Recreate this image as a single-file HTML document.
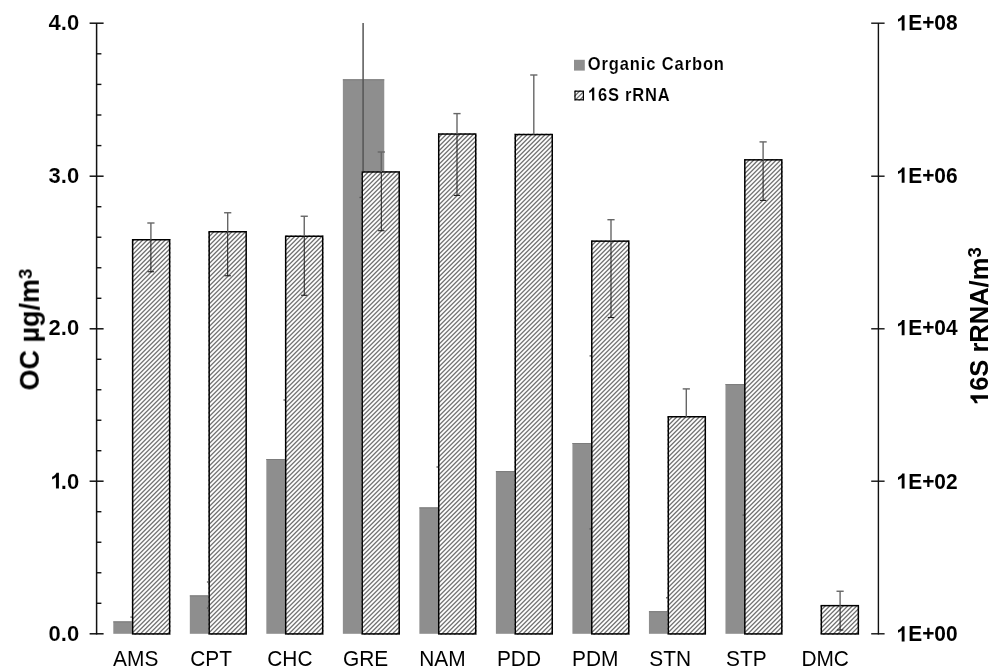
<!DOCTYPE html>
<html><head><meta charset="utf-8"><title>OC and 16S rRNA chart</title>
<style>html,body{margin:0;padding:0;background:#fff;}body{width:1000px;height:672px;overflow:hidden;font-family:"Liberation Sans",sans-serif;}svg{display:block;}text{will-change:transform;}</style>
</head><body>
<svg width="1000" height="672" viewBox="0 0 1000 672">
<rect width="1000" height="672" fill="#fff"/>
<rect x="113.3" y="621.4" width="41.4" height="12.4" fill="#8e8e8e"/>
<line x1="113.3" y1="621.9" x2="154.7" y2="621.9" stroke="#7c7c7c" stroke-width="1"/>
<line x1="130.4" y1="617.1" x2="137.6" y2="617.1" stroke="#555" stroke-width="1.3"/>
<rect x="189.82" y="595.4" width="41.4" height="38.4" fill="#8e8e8e"/>
<line x1="189.82" y1="595.9" x2="231.22" y2="595.9" stroke="#7c7c7c" stroke-width="1"/>
<line x1="206.92" y1="582" x2="214.12" y2="582" stroke="#555" stroke-width="1.3"/>
<line x1="206.92" y1="608" x2="214.12" y2="608" stroke="#555" stroke-width="1.3"/>
<rect x="266.34" y="459" width="41.4" height="174.8" fill="#8e8e8e"/>
<line x1="266.34" y1="459.5" x2="307.74" y2="459.5" stroke="#7c7c7c" stroke-width="1"/>
<line x1="283.44" y1="400" x2="290.64" y2="400" stroke="#555" stroke-width="1.3"/>
<rect x="342.86" y="79.3" width="41.4" height="554.5" fill="#8e8e8e"/>
<line x1="342.86" y1="79.8" x2="384.26" y2="79.8" stroke="#7c7c7c" stroke-width="1"/>
<line x1="363.1" y1="23" x2="363.1" y2="171.2" stroke="#555" stroke-width="1.5"/>
<line x1="359.5" y1="197.5" x2="366.7" y2="197.5" stroke="#555" stroke-width="1.3"/>
<rect x="419.38" y="507.4" width="41.4" height="126.4" fill="#8e8e8e"/>
<line x1="419.38" y1="507.9" x2="460.78" y2="507.9" stroke="#7c7c7c" stroke-width="1"/>
<line x1="436.48" y1="467" x2="443.68" y2="467" stroke="#555" stroke-width="1.3"/>
<rect x="495.9" y="471.1" width="41.4" height="162.7" fill="#8e8e8e"/>
<line x1="495.9" y1="471.6" x2="537.3" y2="471.6" stroke="#7c7c7c" stroke-width="1"/>
<rect x="572.42" y="443" width="41.4" height="190.8" fill="#8e8e8e"/>
<line x1="572.42" y1="443.5" x2="613.82" y2="443.5" stroke="#7c7c7c" stroke-width="1"/>
<line x1="589.52" y1="355.9" x2="596.72" y2="355.9" stroke="#555" stroke-width="1.3"/>
<line x1="589.52" y1="528.9" x2="596.72" y2="528.9" stroke="#555" stroke-width="1.3"/>
<rect x="648.94" y="611.2" width="41.4" height="22.6" fill="#8e8e8e"/>
<line x1="648.94" y1="611.7" x2="690.34" y2="611.7" stroke="#7c7c7c" stroke-width="1"/>
<line x1="666.04" y1="597.8" x2="673.24" y2="597.8" stroke="#555" stroke-width="1.3"/>
<rect x="725.46" y="384.1" width="41.4" height="249.7" fill="#8e8e8e"/>
<line x1="725.46" y1="384.6" x2="766.86" y2="384.6" stroke="#7c7c7c" stroke-width="1"/>
<line x1="742.56" y1="515.1" x2="749.76" y2="515.1" stroke="#555" stroke-width="1.3"/>
<clipPath id="c0"><rect x="131.9" y="239" width="38.5" height="395.65"/></clipPath>
<rect x="131.9" y="239" width="38.5" height="395.65" fill="#fff"/>
<path clip-path="url(#c0)" d="M-272.15 636.65L127.5 237M-267.65 636.65L132 237M-263.15 636.65L136.5 237M-258.65 636.65L141 237M-254.15 636.65L145.5 237M-249.65 636.65L150 237M-245.15 636.65L154.5 237M-240.65 636.65L159 237M-236.15 636.65L163.5 237M-231.65 636.65L168 237M-227.15 636.65L172.5 237M-222.65 636.65L177 237M-218.15 636.65L181.5 237M-213.65 636.65L186 237M-209.15 636.65L190.5 237M-204.65 636.65L195 237M-200.15 636.65L199.5 237M-195.65 636.65L204 237M-191.15 636.65L208.5 237M-186.65 636.65L213 237M-182.15 636.65L217.5 237M-177.65 636.65L222 237M-173.15 636.65L226.5 237M-168.65 636.65L231 237M-164.15 636.65L235.5 237M-159.65 636.65L240 237M-155.15 636.65L244.5 237M-150.65 636.65L249 237M-146.15 636.65L253.5 237M-141.65 636.65L258 237M-137.15 636.65L262.5 237M-132.65 636.65L267 237M-128.15 636.65L271.5 237M-123.65 636.65L276 237M-119.15 636.65L280.5 237M-114.65 636.65L285 237M-110.15 636.65L289.5 237M-105.65 636.65L294 237M-101.15 636.65L298.5 237M-96.65 636.65L303 237M-92.15 636.65L307.5 237M-87.65 636.65L312 237M-83.15 636.65L316.5 237M-78.65 636.65L321 237M-74.15 636.65L325.5 237M-69.65 636.65L330 237M-65.15 636.65L334.5 237M-60.65 636.65L339 237M-56.15 636.65L343.5 237M-51.65 636.65L348 237M-47.15 636.65L352.5 237M-42.65 636.65L357 237M-38.15 636.65L361.5 237M-33.65 636.65L366 237M-29.15 636.65L370.5 237M-24.65 636.65L375 237M-20.15 636.65L379.5 237M-15.65 636.65L384 237M-11.15 636.65L388.5 237M-6.65 636.65L393 237M-2.15 636.65L397.5 237M2.35 636.65L402 237M6.85 636.65L406.5 237M11.35 636.65L411 237M15.85 636.65L415.5 237M20.35 636.65L420 237M24.85 636.65L424.5 237M29.35 636.65L429 237M33.85 636.65L433.5 237M38.35 636.65L438 237M42.85 636.65L442.5 237M47.35 636.65L447 237M51.85 636.65L451.5 237M56.35 636.65L456 237M60.85 636.65L460.5 237M65.35 636.65L465 237M69.85 636.65L469.5 237M74.35 636.65L474 237M78.85 636.65L478.5 237M83.35 636.65L483 237M87.85 636.65L487.5 237M92.35 636.65L492 237M96.85 636.65L496.5 237M101.35 636.65L501 237M105.85 636.65L505.5 237M110.35 636.65L510 237M114.85 636.65L514.5 237M119.35 636.65L519 237M123.85 636.65L523.5 237M128.35 636.65L528 237M132.85 636.65L532.5 237M137.35 636.65L537 237M141.85 636.65L541.5 237M146.35 636.65L546 237M150.85 636.65L550.5 237M155.35 636.65L555 237M159.85 636.65L559.5 237M164.35 636.65L564 237M168.85 636.65L568.5 237M173.35 636.65L573 237" stroke="#333" stroke-opacity="0.5" stroke-width="1.1"/>
<path clip-path="url(#c0)" d="M-271.65 636.65L128 237M-267.15 636.65L132.5 237M-262.65 636.65L137 237M-258.15 636.65L141.5 237M-253.65 636.65L146 237M-249.15 636.65L150.5 237M-244.65 636.65L155 237M-240.15 636.65L159.5 237M-235.65 636.65L164 237M-231.15 636.65L168.5 237M-226.65 636.65L173 237M-222.15 636.65L177.5 237M-217.65 636.65L182 237M-213.15 636.65L186.5 237M-208.65 636.65L191 237M-204.15 636.65L195.5 237M-199.65 636.65L200 237M-195.15 636.65L204.5 237M-190.65 636.65L209 237M-186.15 636.65L213.5 237M-181.65 636.65L218 237M-177.15 636.65L222.5 237M-172.65 636.65L227 237M-168.15 636.65L231.5 237M-163.65 636.65L236 237M-159.15 636.65L240.5 237M-154.65 636.65L245 237M-150.15 636.65L249.5 237M-145.65 636.65L254 237M-141.15 636.65L258.5 237M-136.65 636.65L263 237M-132.15 636.65L267.5 237M-127.65 636.65L272 237M-123.15 636.65L276.5 237M-118.65 636.65L281 237M-114.15 636.65L285.5 237M-109.65 636.65L290 237M-105.15 636.65L294.5 237M-100.65 636.65L299 237M-96.15 636.65L303.5 237M-91.65 636.65L308 237M-87.15 636.65L312.5 237M-82.65 636.65L317 237M-78.15 636.65L321.5 237M-73.65 636.65L326 237M-69.15 636.65L330.5 237M-64.65 636.65L335 237M-60.15 636.65L339.5 237M-55.65 636.65L344 237M-51.15 636.65L348.5 237M-46.65 636.65L353 237M-42.15 636.65L357.5 237M-37.65 636.65L362 237M-33.15 636.65L366.5 237M-28.65 636.65L371 237M-24.15 636.65L375.5 237M-19.65 636.65L380 237M-15.15 636.65L384.5 237M-10.65 636.65L389 237M-6.15 636.65L393.5 237M-1.65 636.65L398 237M2.85 636.65L402.5 237M7.35 636.65L407 237M11.85 636.65L411.5 237M16.35 636.65L416 237M20.85 636.65L420.5 237M25.35 636.65L425 237M29.85 636.65L429.5 237M34.35 636.65L434 237M38.85 636.65L438.5 237M43.35 636.65L443 237M47.85 636.65L447.5 237M52.35 636.65L452 237M56.85 636.65L456.5 237M61.35 636.65L461 237M65.85 636.65L465.5 237M70.35 636.65L470 237M74.85 636.65L474.5 237M79.35 636.65L479 237M83.85 636.65L483.5 237M88.35 636.65L488 237M92.85 636.65L492.5 237M97.35 636.65L497 237M101.85 636.65L501.5 237M106.35 636.65L506 237M110.85 636.65L510.5 237M115.35 636.65L515 237M119.85 636.65L519.5 237M124.35 636.65L524 237M128.85 636.65L528.5 237M133.35 636.65L533 237M137.85 636.65L537.5 237M142.35 636.65L542 237M146.85 636.65L546.5 237M151.35 636.65L551 237M155.85 636.65L555.5 237M160.35 636.65L560 237M164.85 636.65L564.5 237M169.35 636.65L569 237M173.85 636.65L573.5 237" stroke="#333" stroke-opacity="0.5" stroke-width="1.1"/>
<rect x="132.65" y="239.75" width="37" height="394.15" fill="none" stroke="#000" stroke-width="1.5"/>
<clipPath id="c1"><rect x="208.42" y="231" width="38.5" height="403.65"/></clipPath>
<rect x="208.42" y="231" width="38.5" height="403.65" fill="#fff"/>
<path clip-path="url(#c1)" d="M-204.65 636.65L203 229M-200.15 636.65L207.5 229M-195.65 636.65L212 229M-191.15 636.65L216.5 229M-186.65 636.65L221 229M-182.15 636.65L225.5 229M-177.65 636.65L230 229M-173.15 636.65L234.5 229M-168.65 636.65L239 229M-164.15 636.65L243.5 229M-159.65 636.65L248 229M-155.15 636.65L252.5 229M-150.65 636.65L257 229M-146.15 636.65L261.5 229M-141.65 636.65L266 229M-137.15 636.65L270.5 229M-132.65 636.65L275 229M-128.15 636.65L279.5 229M-123.65 636.65L284 229M-119.15 636.65L288.5 229M-114.65 636.65L293 229M-110.15 636.65L297.5 229M-105.65 636.65L302 229M-101.15 636.65L306.5 229M-96.65 636.65L311 229M-92.15 636.65L315.5 229M-87.65 636.65L320 229M-83.15 636.65L324.5 229M-78.65 636.65L329 229M-74.15 636.65L333.5 229M-69.65 636.65L338 229M-65.15 636.65L342.5 229M-60.65 636.65L347 229M-56.15 636.65L351.5 229M-51.65 636.65L356 229M-47.15 636.65L360.5 229M-42.65 636.65L365 229M-38.15 636.65L369.5 229M-33.65 636.65L374 229M-29.15 636.65L378.5 229M-24.65 636.65L383 229M-20.15 636.65L387.5 229M-15.65 636.65L392 229M-11.15 636.65L396.5 229M-6.65 636.65L401 229M-2.15 636.65L405.5 229M2.35 636.65L410 229M6.85 636.65L414.5 229M11.35 636.65L419 229M15.85 636.65L423.5 229M20.35 636.65L428 229M24.85 636.65L432.5 229M29.35 636.65L437 229M33.85 636.65L441.5 229M38.35 636.65L446 229M42.85 636.65L450.5 229M47.35 636.65L455 229M51.85 636.65L459.5 229M56.35 636.65L464 229M60.85 636.65L468.5 229M65.35 636.65L473 229M69.85 636.65L477.5 229M74.35 636.65L482 229M78.85 636.65L486.5 229M83.35 636.65L491 229M87.85 636.65L495.5 229M92.35 636.65L500 229M96.85 636.65L504.5 229M101.35 636.65L509 229M105.85 636.65L513.5 229M110.35 636.65L518 229M114.85 636.65L522.5 229M119.35 636.65L527 229M123.85 636.65L531.5 229M128.35 636.65L536 229M132.85 636.65L540.5 229M137.35 636.65L545 229M141.85 636.65L549.5 229M146.35 636.65L554 229M150.85 636.65L558.5 229M155.35 636.65L563 229M159.85 636.65L567.5 229M164.35 636.65L572 229M168.85 636.65L576.5 229M173.35 636.65L581 229M177.85 636.65L585.5 229M182.35 636.65L590 229M186.85 636.65L594.5 229M191.35 636.65L599 229M195.85 636.65L603.5 229M200.35 636.65L608 229M204.85 636.65L612.5 229M209.35 636.65L617 229M213.85 636.65L621.5 229M218.35 636.65L626 229M222.85 636.65L630.5 229M227.35 636.65L635 229M231.85 636.65L639.5 229M236.35 636.65L644 229M240.85 636.65L648.5 229M245.35 636.65L653 229M249.85 636.65L657.5 229" stroke="#333" stroke-opacity="0.5" stroke-width="1.1"/>
<path clip-path="url(#c1)" d="M-204.15 636.65L203.5 229M-199.65 636.65L208 229M-195.15 636.65L212.5 229M-190.65 636.65L217 229M-186.15 636.65L221.5 229M-181.65 636.65L226 229M-177.15 636.65L230.5 229M-172.65 636.65L235 229M-168.15 636.65L239.5 229M-163.65 636.65L244 229M-159.15 636.65L248.5 229M-154.65 636.65L253 229M-150.15 636.65L257.5 229M-145.65 636.65L262 229M-141.15 636.65L266.5 229M-136.65 636.65L271 229M-132.15 636.65L275.5 229M-127.65 636.65L280 229M-123.15 636.65L284.5 229M-118.65 636.65L289 229M-114.15 636.65L293.5 229M-109.65 636.65L298 229M-105.15 636.65L302.5 229M-100.65 636.65L307 229M-96.15 636.65L311.5 229M-91.65 636.65L316 229M-87.15 636.65L320.5 229M-82.65 636.65L325 229M-78.15 636.65L329.5 229M-73.65 636.65L334 229M-69.15 636.65L338.5 229M-64.65 636.65L343 229M-60.15 636.65L347.5 229M-55.65 636.65L352 229M-51.15 636.65L356.5 229M-46.65 636.65L361 229M-42.15 636.65L365.5 229M-37.65 636.65L370 229M-33.15 636.65L374.5 229M-28.65 636.65L379 229M-24.15 636.65L383.5 229M-19.65 636.65L388 229M-15.15 636.65L392.5 229M-10.65 636.65L397 229M-6.15 636.65L401.5 229M-1.65 636.65L406 229M2.85 636.65L410.5 229M7.35 636.65L415 229M11.85 636.65L419.5 229M16.35 636.65L424 229M20.85 636.65L428.5 229M25.35 636.65L433 229M29.85 636.65L437.5 229M34.35 636.65L442 229M38.85 636.65L446.5 229M43.35 636.65L451 229M47.85 636.65L455.5 229M52.35 636.65L460 229M56.85 636.65L464.5 229M61.35 636.65L469 229M65.85 636.65L473.5 229M70.35 636.65L478 229M74.85 636.65L482.5 229M79.35 636.65L487 229M83.85 636.65L491.5 229M88.35 636.65L496 229M92.85 636.65L500.5 229M97.35 636.65L505 229M101.85 636.65L509.5 229M106.35 636.65L514 229M110.85 636.65L518.5 229M115.35 636.65L523 229M119.85 636.65L527.5 229M124.35 636.65L532 229M128.85 636.65L536.5 229M133.35 636.65L541 229M137.85 636.65L545.5 229M142.35 636.65L550 229M146.85 636.65L554.5 229M151.35 636.65L559 229M155.85 636.65L563.5 229M160.35 636.65L568 229M164.85 636.65L572.5 229M169.35 636.65L577 229M173.85 636.65L581.5 229M178.35 636.65L586 229M182.85 636.65L590.5 229M187.35 636.65L595 229M191.85 636.65L599.5 229M196.35 636.65L604 229M200.85 636.65L608.5 229M205.35 636.65L613 229M209.85 636.65L617.5 229M214.35 636.65L622 229M218.85 636.65L626.5 229M223.35 636.65L631 229M227.85 636.65L635.5 229M232.35 636.65L640 229M236.85 636.65L644.5 229M241.35 636.65L649 229M245.85 636.65L653.5 229M250.35 636.65L658 229" stroke="#333" stroke-opacity="0.5" stroke-width="1.1"/>
<rect x="209.17" y="231.75" width="37" height="402.15" fill="none" stroke="#000" stroke-width="1.5"/>
<clipPath id="c2"><rect x="284.94" y="235.5" width="38.5" height="399.15"/></clipPath>
<rect x="284.94" y="235.5" width="38.5" height="399.15" fill="#fff"/>
<path clip-path="url(#c2)" d="M-123.65 636.65L279.5 233.5M-119.15 636.65L284 233.5M-114.65 636.65L288.5 233.5M-110.15 636.65L293 233.5M-105.65 636.65L297.5 233.5M-101.15 636.65L302 233.5M-96.65 636.65L306.5 233.5M-92.15 636.65L311 233.5M-87.65 636.65L315.5 233.5M-83.15 636.65L320 233.5M-78.65 636.65L324.5 233.5M-74.15 636.65L329 233.5M-69.65 636.65L333.5 233.5M-65.15 636.65L338 233.5M-60.65 636.65L342.5 233.5M-56.15 636.65L347 233.5M-51.65 636.65L351.5 233.5M-47.15 636.65L356 233.5M-42.65 636.65L360.5 233.5M-38.15 636.65L365 233.5M-33.65 636.65L369.5 233.5M-29.15 636.65L374 233.5M-24.65 636.65L378.5 233.5M-20.15 636.65L383 233.5M-15.65 636.65L387.5 233.5M-11.15 636.65L392 233.5M-6.65 636.65L396.5 233.5M-2.15 636.65L401 233.5M2.35 636.65L405.5 233.5M6.85 636.65L410 233.5M11.35 636.65L414.5 233.5M15.85 636.65L419 233.5M20.35 636.65L423.5 233.5M24.85 636.65L428 233.5M29.35 636.65L432.5 233.5M33.85 636.65L437 233.5M38.35 636.65L441.5 233.5M42.85 636.65L446 233.5M47.35 636.65L450.5 233.5M51.85 636.65L455 233.5M56.35 636.65L459.5 233.5M60.85 636.65L464 233.5M65.35 636.65L468.5 233.5M69.85 636.65L473 233.5M74.35 636.65L477.5 233.5M78.85 636.65L482 233.5M83.35 636.65L486.5 233.5M87.85 636.65L491 233.5M92.35 636.65L495.5 233.5M96.85 636.65L500 233.5M101.35 636.65L504.5 233.5M105.85 636.65L509 233.5M110.35 636.65L513.5 233.5M114.85 636.65L518 233.5M119.35 636.65L522.5 233.5M123.85 636.65L527 233.5M128.35 636.65L531.5 233.5M132.85 636.65L536 233.5M137.35 636.65L540.5 233.5M141.85 636.65L545 233.5M146.35 636.65L549.5 233.5M150.85 636.65L554 233.5M155.35 636.65L558.5 233.5M159.85 636.65L563 233.5M164.35 636.65L567.5 233.5M168.85 636.65L572 233.5M173.35 636.65L576.5 233.5M177.85 636.65L581 233.5M182.35 636.65L585.5 233.5M186.85 636.65L590 233.5M191.35 636.65L594.5 233.5M195.85 636.65L599 233.5M200.35 636.65L603.5 233.5M204.85 636.65L608 233.5M209.35 636.65L612.5 233.5M213.85 636.65L617 233.5M218.35 636.65L621.5 233.5M222.85 636.65L626 233.5M227.35 636.65L630.5 233.5M231.85 636.65L635 233.5M236.35 636.65L639.5 233.5M240.85 636.65L644 233.5M245.35 636.65L648.5 233.5M249.85 636.65L653 233.5M254.35 636.65L657.5 233.5M258.85 636.65L662 233.5M263.35 636.65L666.5 233.5M267.85 636.65L671 233.5M272.35 636.65L675.5 233.5M276.85 636.65L680 233.5M281.35 636.65L684.5 233.5M285.85 636.65L689 233.5M290.35 636.65L693.5 233.5M294.85 636.65L698 233.5M299.35 636.65L702.5 233.5M303.85 636.65L707 233.5M308.35 636.65L711.5 233.5M312.85 636.65L716 233.5M317.35 636.65L720.5 233.5M321.85 636.65L725 233.5M326.35 636.65L729.5 233.5" stroke="#333" stroke-opacity="0.5" stroke-width="1.1"/>
<path clip-path="url(#c2)" d="M-123.15 636.65L280 233.5M-118.65 636.65L284.5 233.5M-114.15 636.65L289 233.5M-109.65 636.65L293.5 233.5M-105.15 636.65L298 233.5M-100.65 636.65L302.5 233.5M-96.15 636.65L307 233.5M-91.65 636.65L311.5 233.5M-87.15 636.65L316 233.5M-82.65 636.65L320.5 233.5M-78.15 636.65L325 233.5M-73.65 636.65L329.5 233.5M-69.15 636.65L334 233.5M-64.65 636.65L338.5 233.5M-60.15 636.65L343 233.5M-55.65 636.65L347.5 233.5M-51.15 636.65L352 233.5M-46.65 636.65L356.5 233.5M-42.15 636.65L361 233.5M-37.65 636.65L365.5 233.5M-33.15 636.65L370 233.5M-28.65 636.65L374.5 233.5M-24.15 636.65L379 233.5M-19.65 636.65L383.5 233.5M-15.15 636.65L388 233.5M-10.65 636.65L392.5 233.5M-6.15 636.65L397 233.5M-1.65 636.65L401.5 233.5M2.85 636.65L406 233.5M7.35 636.65L410.5 233.5M11.85 636.65L415 233.5M16.35 636.65L419.5 233.5M20.85 636.65L424 233.5M25.35 636.65L428.5 233.5M29.85 636.65L433 233.5M34.35 636.65L437.5 233.5M38.85 636.65L442 233.5M43.35 636.65L446.5 233.5M47.85 636.65L451 233.5M52.35 636.65L455.5 233.5M56.85 636.65L460 233.5M61.35 636.65L464.5 233.5M65.85 636.65L469 233.5M70.35 636.65L473.5 233.5M74.85 636.65L478 233.5M79.35 636.65L482.5 233.5M83.85 636.65L487 233.5M88.35 636.65L491.5 233.5M92.85 636.65L496 233.5M97.35 636.65L500.5 233.5M101.85 636.65L505 233.5M106.35 636.65L509.5 233.5M110.85 636.65L514 233.5M115.35 636.65L518.5 233.5M119.85 636.65L523 233.5M124.35 636.65L527.5 233.5M128.85 636.65L532 233.5M133.35 636.65L536.5 233.5M137.85 636.65L541 233.5M142.35 636.65L545.5 233.5M146.85 636.65L550 233.5M151.35 636.65L554.5 233.5M155.85 636.65L559 233.5M160.35 636.65L563.5 233.5M164.85 636.65L568 233.5M169.35 636.65L572.5 233.5M173.85 636.65L577 233.5M178.35 636.65L581.5 233.5M182.85 636.65L586 233.5M187.35 636.65L590.5 233.5M191.85 636.65L595 233.5M196.35 636.65L599.5 233.5M200.85 636.65L604 233.5M205.35 636.65L608.5 233.5M209.85 636.65L613 233.5M214.35 636.65L617.5 233.5M218.85 636.65L622 233.5M223.35 636.65L626.5 233.5M227.85 636.65L631 233.5M232.35 636.65L635.5 233.5M236.85 636.65L640 233.5M241.35 636.65L644.5 233.5M245.85 636.65L649 233.5M250.35 636.65L653.5 233.5M254.85 636.65L658 233.5M259.35 636.65L662.5 233.5M263.85 636.65L667 233.5M268.35 636.65L671.5 233.5M272.85 636.65L676 233.5M277.35 636.65L680.5 233.5M281.85 636.65L685 233.5M286.35 636.65L689.5 233.5M290.85 636.65L694 233.5M295.35 636.65L698.5 233.5M299.85 636.65L703 233.5M304.35 636.65L707.5 233.5M308.85 636.65L712 233.5M313.35 636.65L716.5 233.5M317.85 636.65L721 233.5M322.35 636.65L725.5 233.5M326.85 636.65L730 233.5" stroke="#333" stroke-opacity="0.5" stroke-width="1.1"/>
<rect x="285.69" y="236.25" width="37" height="397.65" fill="none" stroke="#000" stroke-width="1.5"/>
<clipPath id="c3"><rect x="361.46" y="171.2" width="38.5" height="463.45"/></clipPath>
<rect x="361.46" y="171.2" width="38.5" height="463.45" fill="#fff"/>
<path clip-path="url(#c3)" d="M-110.15 636.65L357.3 169.2M-105.65 636.65L361.8 169.2M-101.15 636.65L366.3 169.2M-96.65 636.65L370.8 169.2M-92.15 636.65L375.3 169.2M-87.65 636.65L379.8 169.2M-83.15 636.65L384.3 169.2M-78.65 636.65L388.8 169.2M-74.15 636.65L393.3 169.2M-69.65 636.65L397.8 169.2M-65.15 636.65L402.3 169.2M-60.65 636.65L406.8 169.2M-56.15 636.65L411.3 169.2M-51.65 636.65L415.8 169.2M-47.15 636.65L420.3 169.2M-42.65 636.65L424.8 169.2M-38.15 636.65L429.3 169.2M-33.65 636.65L433.8 169.2M-29.15 636.65L438.3 169.2M-24.65 636.65L442.8 169.2M-20.15 636.65L447.3 169.2M-15.65 636.65L451.8 169.2M-11.15 636.65L456.3 169.2M-6.65 636.65L460.8 169.2M-2.15 636.65L465.3 169.2M2.35 636.65L469.8 169.2M6.85 636.65L474.3 169.2M11.35 636.65L478.8 169.2M15.85 636.65L483.3 169.2M20.35 636.65L487.8 169.2M24.85 636.65L492.3 169.2M29.35 636.65L496.8 169.2M33.85 636.65L501.3 169.2M38.35 636.65L505.8 169.2M42.85 636.65L510.3 169.2M47.35 636.65L514.8 169.2M51.85 636.65L519.3 169.2M56.35 636.65L523.8 169.2M60.85 636.65L528.3 169.2M65.35 636.65L532.8 169.2M69.85 636.65L537.3 169.2M74.35 636.65L541.8 169.2M78.85 636.65L546.3 169.2M83.35 636.65L550.8 169.2M87.85 636.65L555.3 169.2M92.35 636.65L559.8 169.2M96.85 636.65L564.3 169.2M101.35 636.65L568.8 169.2M105.85 636.65L573.3 169.2M110.35 636.65L577.8 169.2M114.85 636.65L582.3 169.2M119.35 636.65L586.8 169.2M123.85 636.65L591.3 169.2M128.35 636.65L595.8 169.2M132.85 636.65L600.3 169.2M137.35 636.65L604.8 169.2M141.85 636.65L609.3 169.2M146.35 636.65L613.8 169.2M150.85 636.65L618.3 169.2M155.35 636.65L622.8 169.2M159.85 636.65L627.3 169.2M164.35 636.65L631.8 169.2M168.85 636.65L636.3 169.2M173.35 636.65L640.8 169.2M177.85 636.65L645.3 169.2M182.35 636.65L649.8 169.2M186.85 636.65L654.3 169.2M191.35 636.65L658.8 169.2M195.85 636.65L663.3 169.2M200.35 636.65L667.8 169.2M204.85 636.65L672.3 169.2M209.35 636.65L676.8 169.2M213.85 636.65L681.3 169.2M218.35 636.65L685.8 169.2M222.85 636.65L690.3 169.2M227.35 636.65L694.8 169.2M231.85 636.65L699.3 169.2M236.35 636.65L703.8 169.2M240.85 636.65L708.3 169.2M245.35 636.65L712.8 169.2M249.85 636.65L717.3 169.2M254.35 636.65L721.8 169.2M258.85 636.65L726.3 169.2M263.35 636.65L730.8 169.2M267.85 636.65L735.3 169.2M272.35 636.65L739.8 169.2M276.85 636.65L744.3 169.2M281.35 636.65L748.8 169.2M285.85 636.65L753.3 169.2M290.35 636.65L757.8 169.2M294.85 636.65L762.3 169.2M299.35 636.65L766.8 169.2M303.85 636.65L771.3 169.2M308.35 636.65L775.8 169.2M312.85 636.65L780.3 169.2M317.35 636.65L784.8 169.2M321.85 636.65L789.3 169.2M326.35 636.65L793.8 169.2M330.85 636.65L798.3 169.2M335.35 636.65L802.8 169.2M339.85 636.65L807.3 169.2M344.35 636.65L811.8 169.2M348.85 636.65L816.3 169.2M353.35 636.65L820.8 169.2M357.85 636.65L825.3 169.2M362.35 636.65L829.8 169.2M366.85 636.65L834.3 169.2M371.35 636.65L838.8 169.2M375.85 636.65L843.3 169.2M380.35 636.65L847.8 169.2M384.85 636.65L852.3 169.2M389.35 636.65L856.8 169.2M393.85 636.65L861.3 169.2M398.35 636.65L865.8 169.2M402.85 636.65L870.3 169.2" stroke="#333" stroke-opacity="0.5" stroke-width="1.1"/>
<path clip-path="url(#c3)" d="M-109.65 636.65L357.8 169.2M-105.15 636.65L362.3 169.2M-100.65 636.65L366.8 169.2M-96.15 636.65L371.3 169.2M-91.65 636.65L375.8 169.2M-87.15 636.65L380.3 169.2M-82.65 636.65L384.8 169.2M-78.15 636.65L389.3 169.2M-73.65 636.65L393.8 169.2M-69.15 636.65L398.3 169.2M-64.65 636.65L402.8 169.2M-60.15 636.65L407.3 169.2M-55.65 636.65L411.8 169.2M-51.15 636.65L416.3 169.2M-46.65 636.65L420.8 169.2M-42.15 636.65L425.3 169.2M-37.65 636.65L429.8 169.2M-33.15 636.65L434.3 169.2M-28.65 636.65L438.8 169.2M-24.15 636.65L443.3 169.2M-19.65 636.65L447.8 169.2M-15.15 636.65L452.3 169.2M-10.65 636.65L456.8 169.2M-6.15 636.65L461.3 169.2M-1.65 636.65L465.8 169.2M2.85 636.65L470.3 169.2M7.35 636.65L474.8 169.2M11.85 636.65L479.3 169.2M16.35 636.65L483.8 169.2M20.85 636.65L488.3 169.2M25.35 636.65L492.8 169.2M29.85 636.65L497.3 169.2M34.35 636.65L501.8 169.2M38.85 636.65L506.3 169.2M43.35 636.65L510.8 169.2M47.85 636.65L515.3 169.2M52.35 636.65L519.8 169.2M56.85 636.65L524.3 169.2M61.35 636.65L528.8 169.2M65.85 636.65L533.3 169.2M70.35 636.65L537.8 169.2M74.85 636.65L542.3 169.2M79.35 636.65L546.8 169.2M83.85 636.65L551.3 169.2M88.35 636.65L555.8 169.2M92.85 636.65L560.3 169.2M97.35 636.65L564.8 169.2M101.85 636.65L569.3 169.2M106.35 636.65L573.8 169.2M110.85 636.65L578.3 169.2M115.35 636.65L582.8 169.2M119.85 636.65L587.3 169.2M124.35 636.65L591.8 169.2M128.85 636.65L596.3 169.2M133.35 636.65L600.8 169.2M137.85 636.65L605.3 169.2M142.35 636.65L609.8 169.2M146.85 636.65L614.3 169.2M151.35 636.65L618.8 169.2M155.85 636.65L623.3 169.2M160.35 636.65L627.8 169.2M164.85 636.65L632.3 169.2M169.35 636.65L636.8 169.2M173.85 636.65L641.3 169.2M178.35 636.65L645.8 169.2M182.85 636.65L650.3 169.2M187.35 636.65L654.8 169.2M191.85 636.65L659.3 169.2M196.35 636.65L663.8 169.2M200.85 636.65L668.3 169.2M205.35 636.65L672.8 169.2M209.85 636.65L677.3 169.2M214.35 636.65L681.8 169.2M218.85 636.65L686.3 169.2M223.35 636.65L690.8 169.2M227.85 636.65L695.3 169.2M232.35 636.65L699.8 169.2M236.85 636.65L704.3 169.2M241.35 636.65L708.8 169.2M245.85 636.65L713.3 169.2M250.35 636.65L717.8 169.2M254.85 636.65L722.3 169.2M259.35 636.65L726.8 169.2M263.85 636.65L731.3 169.2M268.35 636.65L735.8 169.2M272.85 636.65L740.3 169.2M277.35 636.65L744.8 169.2M281.85 636.65L749.3 169.2M286.35 636.65L753.8 169.2M290.85 636.65L758.3 169.2M295.35 636.65L762.8 169.2M299.85 636.65L767.3 169.2M304.35 636.65L771.8 169.2M308.85 636.65L776.3 169.2M313.35 636.65L780.8 169.2M317.85 636.65L785.3 169.2M322.35 636.65L789.8 169.2M326.85 636.65L794.3 169.2M331.35 636.65L798.8 169.2M335.85 636.65L803.3 169.2M340.35 636.65L807.8 169.2M344.85 636.65L812.3 169.2M349.35 636.65L816.8 169.2M353.85 636.65L821.3 169.2M358.35 636.65L825.8 169.2M362.85 636.65L830.3 169.2M367.35 636.65L834.8 169.2M371.85 636.65L839.3 169.2M376.35 636.65L843.8 169.2M380.85 636.65L848.3 169.2M385.35 636.65L852.8 169.2M389.85 636.65L857.3 169.2M394.35 636.65L861.8 169.2M398.85 636.65L866.3 169.2M403.35 636.65L870.8 169.2" stroke="#333" stroke-opacity="0.5" stroke-width="1.1"/>
<rect x="362.21" y="171.95" width="37" height="461.95" fill="none" stroke="#000" stroke-width="1.5"/>
<clipPath id="c4"><rect x="437.98" y="133.3" width="38.5" height="501.35"/></clipPath>
<rect x="437.98" y="133.3" width="38.5" height="501.35" fill="#fff"/>
<path clip-path="url(#c4)" d="M-74.15 636.65L431.2 131.3M-69.65 636.65L435.7 131.3M-65.15 636.65L440.2 131.3M-60.65 636.65L444.7 131.3M-56.15 636.65L449.2 131.3M-51.65 636.65L453.7 131.3M-47.15 636.65L458.2 131.3M-42.65 636.65L462.7 131.3M-38.15 636.65L467.2 131.3M-33.65 636.65L471.7 131.3M-29.15 636.65L476.2 131.3M-24.65 636.65L480.7 131.3M-20.15 636.65L485.2 131.3M-15.65 636.65L489.7 131.3M-11.15 636.65L494.2 131.3M-6.65 636.65L498.7 131.3M-2.15 636.65L503.2 131.3M2.35 636.65L507.7 131.3M6.85 636.65L512.2 131.3M11.35 636.65L516.7 131.3M15.85 636.65L521.2 131.3M20.35 636.65L525.7 131.3M24.85 636.65L530.2 131.3M29.35 636.65L534.7 131.3M33.85 636.65L539.2 131.3M38.35 636.65L543.7 131.3M42.85 636.65L548.2 131.3M47.35 636.65L552.7 131.3M51.85 636.65L557.2 131.3M56.35 636.65L561.7 131.3M60.85 636.65L566.2 131.3M65.35 636.65L570.7 131.3M69.85 636.65L575.2 131.3M74.35 636.65L579.7 131.3M78.85 636.65L584.2 131.3M83.35 636.65L588.7 131.3M87.85 636.65L593.2 131.3M92.35 636.65L597.7 131.3M96.85 636.65L602.2 131.3M101.35 636.65L606.7 131.3M105.85 636.65L611.2 131.3M110.35 636.65L615.7 131.3M114.85 636.65L620.2 131.3M119.35 636.65L624.7 131.3M123.85 636.65L629.2 131.3M128.35 636.65L633.7 131.3M132.85 636.65L638.2 131.3M137.35 636.65L642.7 131.3M141.85 636.65L647.2 131.3M146.35 636.65L651.7 131.3M150.85 636.65L656.2 131.3M155.35 636.65L660.7 131.3M159.85 636.65L665.2 131.3M164.35 636.65L669.7 131.3M168.85 636.65L674.2 131.3M173.35 636.65L678.7 131.3M177.85 636.65L683.2 131.3M182.35 636.65L687.7 131.3M186.85 636.65L692.2 131.3M191.35 636.65L696.7 131.3M195.85 636.65L701.2 131.3M200.35 636.65L705.7 131.3M204.85 636.65L710.2 131.3M209.35 636.65L714.7 131.3M213.85 636.65L719.2 131.3M218.35 636.65L723.7 131.3M222.85 636.65L728.2 131.3M227.35 636.65L732.7 131.3M231.85 636.65L737.2 131.3M236.35 636.65L741.7 131.3M240.85 636.65L746.2 131.3M245.35 636.65L750.7 131.3M249.85 636.65L755.2 131.3M254.35 636.65L759.7 131.3M258.85 636.65L764.2 131.3M263.35 636.65L768.7 131.3M267.85 636.65L773.2 131.3M272.35 636.65L777.7 131.3M276.85 636.65L782.2 131.3M281.35 636.65L786.7 131.3M285.85 636.65L791.2 131.3M290.35 636.65L795.7 131.3M294.85 636.65L800.2 131.3M299.35 636.65L804.7 131.3M303.85 636.65L809.2 131.3M308.35 636.65L813.7 131.3M312.85 636.65L818.2 131.3M317.35 636.65L822.7 131.3M321.85 636.65L827.2 131.3M326.35 636.65L831.7 131.3M330.85 636.65L836.2 131.3M335.35 636.65L840.7 131.3M339.85 636.65L845.2 131.3M344.35 636.65L849.7 131.3M348.85 636.65L854.2 131.3M353.35 636.65L858.7 131.3M357.85 636.65L863.2 131.3M362.35 636.65L867.7 131.3M366.85 636.65L872.2 131.3M371.35 636.65L876.7 131.3M375.85 636.65L881.2 131.3M380.35 636.65L885.7 131.3M384.85 636.65L890.2 131.3M389.35 636.65L894.7 131.3M393.85 636.65L899.2 131.3M398.35 636.65L903.7 131.3M402.85 636.65L908.2 131.3M407.35 636.65L912.7 131.3M411.85 636.65L917.2 131.3M416.35 636.65L921.7 131.3M420.85 636.65L926.2 131.3M425.35 636.65L930.7 131.3M429.85 636.65L935.2 131.3M434.35 636.65L939.7 131.3M438.85 636.65L944.2 131.3M443.35 636.65L948.7 131.3M447.85 636.65L953.2 131.3M452.35 636.65L957.7 131.3M456.85 636.65L962.2 131.3M461.35 636.65L966.7 131.3M465.85 636.65L971.2 131.3M470.35 636.65L975.7 131.3M474.85 636.65L980.2 131.3M479.35 636.65L984.7 131.3" stroke="#333" stroke-opacity="0.5" stroke-width="1.1"/>
<path clip-path="url(#c4)" d="M-73.65 636.65L431.7 131.3M-69.15 636.65L436.2 131.3M-64.65 636.65L440.7 131.3M-60.15 636.65L445.2 131.3M-55.65 636.65L449.7 131.3M-51.15 636.65L454.2 131.3M-46.65 636.65L458.7 131.3M-42.15 636.65L463.2 131.3M-37.65 636.65L467.7 131.3M-33.15 636.65L472.2 131.3M-28.65 636.65L476.7 131.3M-24.15 636.65L481.2 131.3M-19.65 636.65L485.7 131.3M-15.15 636.65L490.2 131.3M-10.65 636.65L494.7 131.3M-6.15 636.65L499.2 131.3M-1.65 636.65L503.7 131.3M2.85 636.65L508.2 131.3M7.35 636.65L512.7 131.3M11.85 636.65L517.2 131.3M16.35 636.65L521.7 131.3M20.85 636.65L526.2 131.3M25.35 636.65L530.7 131.3M29.85 636.65L535.2 131.3M34.35 636.65L539.7 131.3M38.85 636.65L544.2 131.3M43.35 636.65L548.7 131.3M47.85 636.65L553.2 131.3M52.35 636.65L557.7 131.3M56.85 636.65L562.2 131.3M61.35 636.65L566.7 131.3M65.85 636.65L571.2 131.3M70.35 636.65L575.7 131.3M74.85 636.65L580.2 131.3M79.35 636.65L584.7 131.3M83.85 636.65L589.2 131.3M88.35 636.65L593.7 131.3M92.85 636.65L598.2 131.3M97.35 636.65L602.7 131.3M101.85 636.65L607.2 131.3M106.35 636.65L611.7 131.3M110.85 636.65L616.2 131.3M115.35 636.65L620.7 131.3M119.85 636.65L625.2 131.3M124.35 636.65L629.7 131.3M128.85 636.65L634.2 131.3M133.35 636.65L638.7 131.3M137.85 636.65L643.2 131.3M142.35 636.65L647.7 131.3M146.85 636.65L652.2 131.3M151.35 636.65L656.7 131.3M155.85 636.65L661.2 131.3M160.35 636.65L665.7 131.3M164.85 636.65L670.2 131.3M169.35 636.65L674.7 131.3M173.85 636.65L679.2 131.3M178.35 636.65L683.7 131.3M182.85 636.65L688.2 131.3M187.35 636.65L692.7 131.3M191.85 636.65L697.2 131.3M196.35 636.65L701.7 131.3M200.85 636.65L706.2 131.3M205.35 636.65L710.7 131.3M209.85 636.65L715.2 131.3M214.35 636.65L719.7 131.3M218.85 636.65L724.2 131.3M223.35 636.65L728.7 131.3M227.85 636.65L733.2 131.3M232.35 636.65L737.7 131.3M236.85 636.65L742.2 131.3M241.35 636.65L746.7 131.3M245.85 636.65L751.2 131.3M250.35 636.65L755.7 131.3M254.85 636.65L760.2 131.3M259.35 636.65L764.7 131.3M263.85 636.65L769.2 131.3M268.35 636.65L773.7 131.3M272.85 636.65L778.2 131.3M277.35 636.65L782.7 131.3M281.85 636.65L787.2 131.3M286.35 636.65L791.7 131.3M290.85 636.65L796.2 131.3M295.35 636.65L800.7 131.3M299.85 636.65L805.2 131.3M304.35 636.65L809.7 131.3M308.85 636.65L814.2 131.3M313.35 636.65L818.7 131.3M317.85 636.65L823.2 131.3M322.35 636.65L827.7 131.3M326.85 636.65L832.2 131.3M331.35 636.65L836.7 131.3M335.85 636.65L841.2 131.3M340.35 636.65L845.7 131.3M344.85 636.65L850.2 131.3M349.35 636.65L854.7 131.3M353.85 636.65L859.2 131.3M358.35 636.65L863.7 131.3M362.85 636.65L868.2 131.3M367.35 636.65L872.7 131.3M371.85 636.65L877.2 131.3M376.35 636.65L881.7 131.3M380.85 636.65L886.2 131.3M385.35 636.65L890.7 131.3M389.85 636.65L895.2 131.3M394.35 636.65L899.7 131.3M398.85 636.65L904.2 131.3M403.35 636.65L908.7 131.3M407.85 636.65L913.2 131.3M412.35 636.65L917.7 131.3M416.85 636.65L922.2 131.3M421.35 636.65L926.7 131.3M425.85 636.65L931.2 131.3M430.35 636.65L935.7 131.3M434.85 636.65L940.2 131.3M439.35 636.65L944.7 131.3M443.85 636.65L949.2 131.3M448.35 636.65L953.7 131.3M452.85 636.65L958.2 131.3M457.35 636.65L962.7 131.3M461.85 636.65L967.2 131.3M466.35 636.65L971.7 131.3M470.85 636.65L976.2 131.3M475.35 636.65L980.7 131.3M479.85 636.65L985.2 131.3" stroke="#333" stroke-opacity="0.5" stroke-width="1.1"/>
<rect x="438.73" y="134.05" width="37" height="499.85" fill="none" stroke="#000" stroke-width="1.5"/>
<clipPath id="c5"><rect x="514.5" y="133.8" width="38.5" height="500.85"/></clipPath>
<rect x="514.5" y="133.8" width="38.5" height="500.85" fill="#fff"/>
<path clip-path="url(#c5)" d="M6.85 636.65L511.7 131.8M11.35 636.65L516.2 131.8M15.85 636.65L520.7 131.8M20.35 636.65L525.2 131.8M24.85 636.65L529.7 131.8M29.35 636.65L534.2 131.8M33.85 636.65L538.7 131.8M38.35 636.65L543.2 131.8M42.85 636.65L547.7 131.8M47.35 636.65L552.2 131.8M51.85 636.65L556.7 131.8M56.35 636.65L561.2 131.8M60.85 636.65L565.7 131.8M65.35 636.65L570.2 131.8M69.85 636.65L574.7 131.8M74.35 636.65L579.2 131.8M78.85 636.65L583.7 131.8M83.35 636.65L588.2 131.8M87.85 636.65L592.7 131.8M92.35 636.65L597.2 131.8M96.85 636.65L601.7 131.8M101.35 636.65L606.2 131.8M105.85 636.65L610.7 131.8M110.35 636.65L615.2 131.8M114.85 636.65L619.7 131.8M119.35 636.65L624.2 131.8M123.85 636.65L628.7 131.8M128.35 636.65L633.2 131.8M132.85 636.65L637.7 131.8M137.35 636.65L642.2 131.8M141.85 636.65L646.7 131.8M146.35 636.65L651.2 131.8M150.85 636.65L655.7 131.8M155.35 636.65L660.2 131.8M159.85 636.65L664.7 131.8M164.35 636.65L669.2 131.8M168.85 636.65L673.7 131.8M173.35 636.65L678.2 131.8M177.85 636.65L682.7 131.8M182.35 636.65L687.2 131.8M186.85 636.65L691.7 131.8M191.35 636.65L696.2 131.8M195.85 636.65L700.7 131.8M200.35 636.65L705.2 131.8M204.85 636.65L709.7 131.8M209.35 636.65L714.2 131.8M213.85 636.65L718.7 131.8M218.35 636.65L723.2 131.8M222.85 636.65L727.7 131.8M227.35 636.65L732.2 131.8M231.85 636.65L736.7 131.8M236.35 636.65L741.2 131.8M240.85 636.65L745.7 131.8M245.35 636.65L750.2 131.8M249.85 636.65L754.7 131.8M254.35 636.65L759.2 131.8M258.85 636.65L763.7 131.8M263.35 636.65L768.2 131.8M267.85 636.65L772.7 131.8M272.35 636.65L777.2 131.8M276.85 636.65L781.7 131.8M281.35 636.65L786.2 131.8M285.85 636.65L790.7 131.8M290.35 636.65L795.2 131.8M294.85 636.65L799.7 131.8M299.35 636.65L804.2 131.8M303.85 636.65L808.7 131.8M308.35 636.65L813.2 131.8M312.85 636.65L817.7 131.8M317.35 636.65L822.2 131.8M321.85 636.65L826.7 131.8M326.35 636.65L831.2 131.8M330.85 636.65L835.7 131.8M335.35 636.65L840.2 131.8M339.85 636.65L844.7 131.8M344.35 636.65L849.2 131.8M348.85 636.65L853.7 131.8M353.35 636.65L858.2 131.8M357.85 636.65L862.7 131.8M362.35 636.65L867.2 131.8M366.85 636.65L871.7 131.8M371.35 636.65L876.2 131.8M375.85 636.65L880.7 131.8M380.35 636.65L885.2 131.8M384.85 636.65L889.7 131.8M389.35 636.65L894.2 131.8M393.85 636.65L898.7 131.8M398.35 636.65L903.2 131.8M402.85 636.65L907.7 131.8M407.35 636.65L912.2 131.8M411.85 636.65L916.7 131.8M416.35 636.65L921.2 131.8M420.85 636.65L925.7 131.8M425.35 636.65L930.2 131.8M429.85 636.65L934.7 131.8M434.35 636.65L939.2 131.8M438.85 636.65L943.7 131.8M443.35 636.65L948.2 131.8M447.85 636.65L952.7 131.8M452.35 636.65L957.2 131.8M456.85 636.65L961.7 131.8M461.35 636.65L966.2 131.8M465.85 636.65L970.7 131.8M470.35 636.65L975.2 131.8M474.85 636.65L979.7 131.8M479.35 636.65L984.2 131.8M483.85 636.65L988.7 131.8M488.35 636.65L993.2 131.8M492.85 636.65L997.7 131.8M497.35 636.65L1002.2 131.8M501.85 636.65L1006.7 131.8M506.35 636.65L1011.2 131.8M510.85 636.65L1015.7 131.8M515.35 636.65L1020.2 131.8M519.85 636.65L1024.7 131.8M524.35 636.65L1029.2 131.8M528.85 636.65L1033.7 131.8M533.35 636.65L1038.2 131.8M537.85 636.65L1042.7 131.8M542.35 636.65L1047.2 131.8M546.85 636.65L1051.7 131.8M551.35 636.65L1056.2 131.8M555.85 636.65L1060.7 131.8" stroke="#333" stroke-opacity="0.5" stroke-width="1.1"/>
<path clip-path="url(#c5)" d="M7.35 636.65L512.2 131.8M11.85 636.65L516.7 131.8M16.35 636.65L521.2 131.8M20.85 636.65L525.7 131.8M25.35 636.65L530.2 131.8M29.85 636.65L534.7 131.8M34.35 636.65L539.2 131.8M38.85 636.65L543.7 131.8M43.35 636.65L548.2 131.8M47.85 636.65L552.7 131.8M52.35 636.65L557.2 131.8M56.85 636.65L561.7 131.8M61.35 636.65L566.2 131.8M65.85 636.65L570.7 131.8M70.35 636.65L575.2 131.8M74.85 636.65L579.7 131.8M79.35 636.65L584.2 131.8M83.85 636.65L588.7 131.8M88.35 636.65L593.2 131.8M92.85 636.65L597.7 131.8M97.35 636.65L602.2 131.8M101.85 636.65L606.7 131.8M106.35 636.65L611.2 131.8M110.85 636.65L615.7 131.8M115.35 636.65L620.2 131.8M119.85 636.65L624.7 131.8M124.35 636.65L629.2 131.8M128.85 636.65L633.7 131.8M133.35 636.65L638.2 131.8M137.85 636.65L642.7 131.8M142.35 636.65L647.2 131.8M146.85 636.65L651.7 131.8M151.35 636.65L656.2 131.8M155.85 636.65L660.7 131.8M160.35 636.65L665.2 131.8M164.85 636.65L669.7 131.8M169.35 636.65L674.2 131.8M173.85 636.65L678.7 131.8M178.35 636.65L683.2 131.8M182.85 636.65L687.7 131.8M187.35 636.65L692.2 131.8M191.85 636.65L696.7 131.8M196.35 636.65L701.2 131.8M200.85 636.65L705.7 131.8M205.35 636.65L710.2 131.8M209.85 636.65L714.7 131.8M214.35 636.65L719.2 131.8M218.85 636.65L723.7 131.8M223.35 636.65L728.2 131.8M227.85 636.65L732.7 131.8M232.35 636.65L737.2 131.8M236.85 636.65L741.7 131.8M241.35 636.65L746.2 131.8M245.85 636.65L750.7 131.8M250.35 636.65L755.2 131.8M254.85 636.65L759.7 131.8M259.35 636.65L764.2 131.8M263.85 636.65L768.7 131.8M268.35 636.65L773.2 131.8M272.85 636.65L777.7 131.8M277.35 636.65L782.2 131.8M281.85 636.65L786.7 131.8M286.35 636.65L791.2 131.8M290.85 636.65L795.7 131.8M295.35 636.65L800.2 131.8M299.85 636.65L804.7 131.8M304.35 636.65L809.2 131.8M308.85 636.65L813.7 131.8M313.35 636.65L818.2 131.8M317.85 636.65L822.7 131.8M322.35 636.65L827.2 131.8M326.85 636.65L831.7 131.8M331.35 636.65L836.2 131.8M335.85 636.65L840.7 131.8M340.35 636.65L845.2 131.8M344.85 636.65L849.7 131.8M349.35 636.65L854.2 131.8M353.85 636.65L858.7 131.8M358.35 636.65L863.2 131.8M362.85 636.65L867.7 131.8M367.35 636.65L872.2 131.8M371.85 636.65L876.7 131.8M376.35 636.65L881.2 131.8M380.85 636.65L885.7 131.8M385.35 636.65L890.2 131.8M389.85 636.65L894.7 131.8M394.35 636.65L899.2 131.8M398.85 636.65L903.7 131.8M403.35 636.65L908.2 131.8M407.85 636.65L912.7 131.8M412.35 636.65L917.2 131.8M416.85 636.65L921.7 131.8M421.35 636.65L926.2 131.8M425.85 636.65L930.7 131.8M430.35 636.65L935.2 131.8M434.85 636.65L939.7 131.8M439.35 636.65L944.2 131.8M443.85 636.65L948.7 131.8M448.35 636.65L953.2 131.8M452.85 636.65L957.7 131.8M457.35 636.65L962.2 131.8M461.85 636.65L966.7 131.8M466.35 636.65L971.2 131.8M470.85 636.65L975.7 131.8M475.35 636.65L980.2 131.8M479.85 636.65L984.7 131.8M484.35 636.65L989.2 131.8M488.85 636.65L993.7 131.8M493.35 636.65L998.2 131.8M497.85 636.65L1002.7 131.8M502.35 636.65L1007.2 131.8M506.85 636.65L1011.7 131.8M511.35 636.65L1016.2 131.8M515.85 636.65L1020.7 131.8M520.35 636.65L1025.2 131.8M524.85 636.65L1029.7 131.8M529.35 636.65L1034.2 131.8M533.85 636.65L1038.7 131.8M538.35 636.65L1043.2 131.8M542.85 636.65L1047.7 131.8M547.35 636.65L1052.2 131.8M551.85 636.65L1056.7 131.8M556.35 636.65L1061.2 131.8" stroke="#333" stroke-opacity="0.5" stroke-width="1.1"/>
<rect x="515.25" y="134.55" width="37" height="499.35" fill="none" stroke="#000" stroke-width="1.5"/>
<clipPath id="c6"><rect x="591.02" y="240.4" width="38.5" height="394.25"/></clipPath>
<rect x="591.02" y="240.4" width="38.5" height="394.25" fill="#fff"/>
<path clip-path="url(#c6)" d="M186.85 636.65L585.1 238.4M191.35 636.65L589.6 238.4M195.85 636.65L594.1 238.4M200.35 636.65L598.6 238.4M204.85 636.65L603.1 238.4M209.35 636.65L607.6 238.4M213.85 636.65L612.1 238.4M218.35 636.65L616.6 238.4M222.85 636.65L621.1 238.4M227.35 636.65L625.6 238.4M231.85 636.65L630.1 238.4M236.35 636.65L634.6 238.4M240.85 636.65L639.1 238.4M245.35 636.65L643.6 238.4M249.85 636.65L648.1 238.4M254.35 636.65L652.6 238.4M258.85 636.65L657.1 238.4M263.35 636.65L661.6 238.4M267.85 636.65L666.1 238.4M272.35 636.65L670.6 238.4M276.85 636.65L675.1 238.4M281.35 636.65L679.6 238.4M285.85 636.65L684.1 238.4M290.35 636.65L688.6 238.4M294.85 636.65L693.1 238.4M299.35 636.65L697.6 238.4M303.85 636.65L702.1 238.4M308.35 636.65L706.6 238.4M312.85 636.65L711.1 238.4M317.35 636.65L715.6 238.4M321.85 636.65L720.1 238.4M326.35 636.65L724.6 238.4M330.85 636.65L729.1 238.4M335.35 636.65L733.6 238.4M339.85 636.65L738.1 238.4M344.35 636.65L742.6 238.4M348.85 636.65L747.1 238.4M353.35 636.65L751.6 238.4M357.85 636.65L756.1 238.4M362.35 636.65L760.6 238.4M366.85 636.65L765.1 238.4M371.35 636.65L769.6 238.4M375.85 636.65L774.1 238.4M380.35 636.65L778.6 238.4M384.85 636.65L783.1 238.4M389.35 636.65L787.6 238.4M393.85 636.65L792.1 238.4M398.35 636.65L796.6 238.4M402.85 636.65L801.1 238.4M407.35 636.65L805.6 238.4M411.85 636.65L810.1 238.4M416.35 636.65L814.6 238.4M420.85 636.65L819.1 238.4M425.35 636.65L823.6 238.4M429.85 636.65L828.1 238.4M434.35 636.65L832.6 238.4M438.85 636.65L837.1 238.4M443.35 636.65L841.6 238.4M447.85 636.65L846.1 238.4M452.35 636.65L850.6 238.4M456.85 636.65L855.1 238.4M461.35 636.65L859.6 238.4M465.85 636.65L864.1 238.4M470.35 636.65L868.6 238.4M474.85 636.65L873.1 238.4M479.35 636.65L877.6 238.4M483.85 636.65L882.1 238.4M488.35 636.65L886.6 238.4M492.85 636.65L891.1 238.4M497.35 636.65L895.6 238.4M501.85 636.65L900.1 238.4M506.35 636.65L904.6 238.4M510.85 636.65L909.1 238.4M515.35 636.65L913.6 238.4M519.85 636.65L918.1 238.4M524.35 636.65L922.6 238.4M528.85 636.65L927.1 238.4M533.35 636.65L931.6 238.4M537.85 636.65L936.1 238.4M542.35 636.65L940.6 238.4M546.85 636.65L945.1 238.4M551.35 636.65L949.6 238.4M555.85 636.65L954.1 238.4M560.35 636.65L958.6 238.4M564.85 636.65L963.1 238.4M569.35 636.65L967.6 238.4M573.85 636.65L972.1 238.4M578.35 636.65L976.6 238.4M582.85 636.65L981.1 238.4M587.35 636.65L985.6 238.4M591.85 636.65L990.1 238.4M596.35 636.65L994.6 238.4M600.85 636.65L999.1 238.4M605.35 636.65L1003.6 238.4M609.85 636.65L1008.1 238.4M614.35 636.65L1012.6 238.4M618.85 636.65L1017.1 238.4M623.35 636.65L1021.6 238.4M627.85 636.65L1026.1 238.4M632.35 636.65L1030.6 238.4" stroke="#333" stroke-opacity="0.5" stroke-width="1.1"/>
<path clip-path="url(#c6)" d="M187.35 636.65L585.6 238.4M191.85 636.65L590.1 238.4M196.35 636.65L594.6 238.4M200.85 636.65L599.1 238.4M205.35 636.65L603.6 238.4M209.85 636.65L608.1 238.4M214.35 636.65L612.6 238.4M218.85 636.65L617.1 238.4M223.35 636.65L621.6 238.4M227.85 636.65L626.1 238.4M232.35 636.65L630.6 238.4M236.85 636.65L635.1 238.4M241.35 636.65L639.6 238.4M245.85 636.65L644.1 238.4M250.35 636.65L648.6 238.4M254.85 636.65L653.1 238.4M259.35 636.65L657.6 238.4M263.85 636.65L662.1 238.4M268.35 636.65L666.6 238.4M272.85 636.65L671.1 238.4M277.35 636.65L675.6 238.4M281.85 636.65L680.1 238.4M286.35 636.65L684.6 238.4M290.85 636.65L689.1 238.4M295.35 636.65L693.6 238.4M299.85 636.65L698.1 238.4M304.35 636.65L702.6 238.4M308.85 636.65L707.1 238.4M313.35 636.65L711.6 238.4M317.85 636.65L716.1 238.4M322.35 636.65L720.6 238.4M326.85 636.65L725.1 238.4M331.35 636.65L729.6 238.4M335.85 636.65L734.1 238.4M340.35 636.65L738.6 238.4M344.85 636.65L743.1 238.4M349.35 636.65L747.6 238.4M353.85 636.65L752.1 238.4M358.35 636.65L756.6 238.4M362.85 636.65L761.1 238.4M367.35 636.65L765.6 238.4M371.85 636.65L770.1 238.4M376.35 636.65L774.6 238.4M380.85 636.65L779.1 238.4M385.35 636.65L783.6 238.4M389.85 636.65L788.1 238.4M394.35 636.65L792.6 238.4M398.85 636.65L797.1 238.4M403.35 636.65L801.6 238.4M407.85 636.65L806.1 238.4M412.35 636.65L810.6 238.4M416.85 636.65L815.1 238.4M421.35 636.65L819.6 238.4M425.85 636.65L824.1 238.4M430.35 636.65L828.6 238.4M434.85 636.65L833.1 238.4M439.35 636.65L837.6 238.4M443.85 636.65L842.1 238.4M448.35 636.65L846.6 238.4M452.85 636.65L851.1 238.4M457.35 636.65L855.6 238.4M461.85 636.65L860.1 238.4M466.35 636.65L864.6 238.4M470.85 636.65L869.1 238.4M475.35 636.65L873.6 238.4M479.85 636.65L878.1 238.4M484.35 636.65L882.6 238.4M488.85 636.65L887.1 238.4M493.35 636.65L891.6 238.4M497.85 636.65L896.1 238.4M502.35 636.65L900.6 238.4M506.85 636.65L905.1 238.4M511.35 636.65L909.6 238.4M515.85 636.65L914.1 238.4M520.35 636.65L918.6 238.4M524.85 636.65L923.1 238.4M529.35 636.65L927.6 238.4M533.85 636.65L932.1 238.4M538.35 636.65L936.6 238.4M542.85 636.65L941.1 238.4M547.35 636.65L945.6 238.4M551.85 636.65L950.1 238.4M556.35 636.65L954.6 238.4M560.85 636.65L959.1 238.4M565.35 636.65L963.6 238.4M569.85 636.65L968.1 238.4M574.35 636.65L972.6 238.4M578.85 636.65L977.1 238.4M583.35 636.65L981.6 238.4M587.85 636.65L986.1 238.4M592.35 636.65L990.6 238.4M596.85 636.65L995.1 238.4M601.35 636.65L999.6 238.4M605.85 636.65L1004.1 238.4M610.35 636.65L1008.6 238.4M614.85 636.65L1013.1 238.4M619.35 636.65L1017.6 238.4M623.85 636.65L1022.1 238.4M628.35 636.65L1026.6 238.4M632.85 636.65L1031.1 238.4" stroke="#333" stroke-opacity="0.5" stroke-width="1.1"/>
<rect x="591.77" y="241.15" width="37" height="392.75" fill="none" stroke="#000" stroke-width="1.5"/>
<clipPath id="c7"><rect x="667.54" y="416" width="38.5" height="218.65"/></clipPath>
<rect x="667.54" y="416" width="38.5" height="218.65" fill="#fff"/>
<path clip-path="url(#c7)" d="M438.85 636.65L661.5 414M443.35 636.65L666 414M447.85 636.65L670.5 414M452.35 636.65L675 414M456.85 636.65L679.5 414M461.35 636.65L684 414M465.85 636.65L688.5 414M470.35 636.65L693 414M474.85 636.65L697.5 414M479.35 636.65L702 414M483.85 636.65L706.5 414M488.35 636.65L711 414M492.85 636.65L715.5 414M497.35 636.65L720 414M501.85 636.65L724.5 414M506.35 636.65L729 414M510.85 636.65L733.5 414M515.35 636.65L738 414M519.85 636.65L742.5 414M524.35 636.65L747 414M528.85 636.65L751.5 414M533.35 636.65L756 414M537.85 636.65L760.5 414M542.35 636.65L765 414M546.85 636.65L769.5 414M551.35 636.65L774 414M555.85 636.65L778.5 414M560.35 636.65L783 414M564.85 636.65L787.5 414M569.35 636.65L792 414M573.85 636.65L796.5 414M578.35 636.65L801 414M582.85 636.65L805.5 414M587.35 636.65L810 414M591.85 636.65L814.5 414M596.35 636.65L819 414M600.85 636.65L823.5 414M605.35 636.65L828 414M609.85 636.65L832.5 414M614.35 636.65L837 414M618.85 636.65L841.5 414M623.35 636.65L846 414M627.85 636.65L850.5 414M632.35 636.65L855 414M636.85 636.65L859.5 414M641.35 636.65L864 414M645.85 636.65L868.5 414M650.35 636.65L873 414M654.85 636.65L877.5 414M659.35 636.65L882 414M663.85 636.65L886.5 414M668.35 636.65L891 414M672.85 636.65L895.5 414M677.35 636.65L900 414M681.85 636.65L904.5 414M686.35 636.65L909 414M690.85 636.65L913.5 414M695.35 636.65L918 414M699.85 636.65L922.5 414M704.35 636.65L927 414M708.85 636.65L931.5 414" stroke="#333" stroke-opacity="0.5" stroke-width="1.1"/>
<path clip-path="url(#c7)" d="M439.35 636.65L662 414M443.85 636.65L666.5 414M448.35 636.65L671 414M452.85 636.65L675.5 414M457.35 636.65L680 414M461.85 636.65L684.5 414M466.35 636.65L689 414M470.85 636.65L693.5 414M475.35 636.65L698 414M479.85 636.65L702.5 414M484.35 636.65L707 414M488.85 636.65L711.5 414M493.35 636.65L716 414M497.85 636.65L720.5 414M502.35 636.65L725 414M506.85 636.65L729.5 414M511.35 636.65L734 414M515.85 636.65L738.5 414M520.35 636.65L743 414M524.85 636.65L747.5 414M529.35 636.65L752 414M533.85 636.65L756.5 414M538.35 636.65L761 414M542.85 636.65L765.5 414M547.35 636.65L770 414M551.85 636.65L774.5 414M556.35 636.65L779 414M560.85 636.65L783.5 414M565.35 636.65L788 414M569.85 636.65L792.5 414M574.35 636.65L797 414M578.85 636.65L801.5 414M583.35 636.65L806 414M587.85 636.65L810.5 414M592.35 636.65L815 414M596.85 636.65L819.5 414M601.35 636.65L824 414M605.85 636.65L828.5 414M610.35 636.65L833 414M614.85 636.65L837.5 414M619.35 636.65L842 414M623.85 636.65L846.5 414M628.35 636.65L851 414M632.85 636.65L855.5 414M637.35 636.65L860 414M641.85 636.65L864.5 414M646.35 636.65L869 414M650.85 636.65L873.5 414M655.35 636.65L878 414M659.85 636.65L882.5 414M664.35 636.65L887 414M668.85 636.65L891.5 414M673.35 636.65L896 414M677.85 636.65L900.5 414M682.35 636.65L905 414M686.85 636.65L909.5 414M691.35 636.65L914 414M695.85 636.65L918.5 414M700.35 636.65L923 414M704.85 636.65L927.5 414M709.35 636.65L932 414" stroke="#333" stroke-opacity="0.5" stroke-width="1.1"/>
<rect x="668.29" y="416.75" width="37" height="217.15" fill="none" stroke="#000" stroke-width="1.5"/>
<clipPath id="c8"><rect x="744.06" y="159.1" width="38.5" height="475.55"/></clipPath>
<rect x="744.06" y="159.1" width="38.5" height="475.55" fill="#fff"/>
<path clip-path="url(#c8)" d="M258.85 636.65L738.4 157.1M263.35 636.65L742.9 157.1M267.85 636.65L747.4 157.1M272.35 636.65L751.9 157.1M276.85 636.65L756.4 157.1M281.35 636.65L760.9 157.1M285.85 636.65L765.4 157.1M290.35 636.65L769.9 157.1M294.85 636.65L774.4 157.1M299.35 636.65L778.9 157.1M303.85 636.65L783.4 157.1M308.35 636.65L787.9 157.1M312.85 636.65L792.4 157.1M317.35 636.65L796.9 157.1M321.85 636.65L801.4 157.1M326.35 636.65L805.9 157.1M330.85 636.65L810.4 157.1M335.35 636.65L814.9 157.1M339.85 636.65L819.4 157.1M344.35 636.65L823.9 157.1M348.85 636.65L828.4 157.1M353.35 636.65L832.9 157.1M357.85 636.65L837.4 157.1M362.35 636.65L841.9 157.1M366.85 636.65L846.4 157.1M371.35 636.65L850.9 157.1M375.85 636.65L855.4 157.1M380.35 636.65L859.9 157.1M384.85 636.65L864.4 157.1M389.35 636.65L868.9 157.1M393.85 636.65L873.4 157.1M398.35 636.65L877.9 157.1M402.85 636.65L882.4 157.1M407.35 636.65L886.9 157.1M411.85 636.65L891.4 157.1M416.35 636.65L895.9 157.1M420.85 636.65L900.4 157.1M425.35 636.65L904.9 157.1M429.85 636.65L909.4 157.1M434.35 636.65L913.9 157.1M438.85 636.65L918.4 157.1M443.35 636.65L922.9 157.1M447.85 636.65L927.4 157.1M452.35 636.65L931.9 157.1M456.85 636.65L936.4 157.1M461.35 636.65L940.9 157.1M465.85 636.65L945.4 157.1M470.35 636.65L949.9 157.1M474.85 636.65L954.4 157.1M479.35 636.65L958.9 157.1M483.85 636.65L963.4 157.1M488.35 636.65L967.9 157.1M492.85 636.65L972.4 157.1M497.35 636.65L976.9 157.1M501.85 636.65L981.4 157.1M506.35 636.65L985.9 157.1M510.85 636.65L990.4 157.1M515.35 636.65L994.9 157.1M519.85 636.65L999.4 157.1M524.35 636.65L1003.9 157.1M528.85 636.65L1008.4 157.1M533.35 636.65L1012.9 157.1M537.85 636.65L1017.4 157.1M542.35 636.65L1021.9 157.1M546.85 636.65L1026.4 157.1M551.35 636.65L1030.9 157.1M555.85 636.65L1035.4 157.1M560.35 636.65L1039.9 157.1M564.85 636.65L1044.4 157.1M569.35 636.65L1048.9 157.1M573.85 636.65L1053.4 157.1M578.35 636.65L1057.9 157.1M582.85 636.65L1062.4 157.1M587.35 636.65L1066.9 157.1M591.85 636.65L1071.4 157.1M596.35 636.65L1075.9 157.1M600.85 636.65L1080.4 157.1M605.35 636.65L1084.9 157.1M609.85 636.65L1089.4 157.1M614.35 636.65L1093.9 157.1M618.85 636.65L1098.4 157.1M623.35 636.65L1102.9 157.1M627.85 636.65L1107.4 157.1M632.35 636.65L1111.9 157.1M636.85 636.65L1116.4 157.1M641.35 636.65L1120.9 157.1M645.85 636.65L1125.4 157.1M650.35 636.65L1129.9 157.1M654.85 636.65L1134.4 157.1M659.35 636.65L1138.9 157.1M663.85 636.65L1143.4 157.1M668.35 636.65L1147.9 157.1M672.85 636.65L1152.4 157.1M677.35 636.65L1156.9 157.1M681.85 636.65L1161.4 157.1M686.35 636.65L1165.9 157.1M690.85 636.65L1170.4 157.1M695.35 636.65L1174.9 157.1M699.85 636.65L1179.4 157.1M704.35 636.65L1183.9 157.1M708.85 636.65L1188.4 157.1M713.35 636.65L1192.9 157.1M717.85 636.65L1197.4 157.1M722.35 636.65L1201.9 157.1M726.85 636.65L1206.4 157.1M731.35 636.65L1210.9 157.1M735.85 636.65L1215.4 157.1M740.35 636.65L1219.9 157.1M744.85 636.65L1224.4 157.1M749.35 636.65L1228.9 157.1M753.85 636.65L1233.4 157.1M758.35 636.65L1237.9 157.1M762.85 636.65L1242.4 157.1M767.35 636.65L1246.9 157.1M771.85 636.65L1251.4 157.1M776.35 636.65L1255.9 157.1M780.85 636.65L1260.4 157.1M785.35 636.65L1264.9 157.1" stroke="#333" stroke-opacity="0.5" stroke-width="1.1"/>
<path clip-path="url(#c8)" d="M259.35 636.65L738.9 157.1M263.85 636.65L743.4 157.1M268.35 636.65L747.9 157.1M272.85 636.65L752.4 157.1M277.35 636.65L756.9 157.1M281.85 636.65L761.4 157.1M286.35 636.65L765.9 157.1M290.85 636.65L770.4 157.1M295.35 636.65L774.9 157.1M299.85 636.65L779.4 157.1M304.35 636.65L783.9 157.1M308.85 636.65L788.4 157.1M313.35 636.65L792.9 157.1M317.85 636.65L797.4 157.1M322.35 636.65L801.9 157.1M326.85 636.65L806.4 157.1M331.35 636.65L810.9 157.1M335.85 636.65L815.4 157.1M340.35 636.65L819.9 157.1M344.85 636.65L824.4 157.1M349.35 636.65L828.9 157.1M353.85 636.65L833.4 157.1M358.35 636.65L837.9 157.1M362.85 636.65L842.4 157.1M367.35 636.65L846.9 157.1M371.85 636.65L851.4 157.1M376.35 636.65L855.9 157.1M380.85 636.65L860.4 157.1M385.35 636.65L864.9 157.1M389.85 636.65L869.4 157.1M394.35 636.65L873.9 157.1M398.85 636.65L878.4 157.1M403.35 636.65L882.9 157.1M407.85 636.65L887.4 157.1M412.35 636.65L891.9 157.1M416.85 636.65L896.4 157.1M421.35 636.65L900.9 157.1M425.85 636.65L905.4 157.1M430.35 636.65L909.9 157.1M434.85 636.65L914.4 157.1M439.35 636.65L918.9 157.1M443.85 636.65L923.4 157.1M448.35 636.65L927.9 157.1M452.85 636.65L932.4 157.1M457.35 636.65L936.9 157.1M461.85 636.65L941.4 157.1M466.35 636.65L945.9 157.1M470.85 636.65L950.4 157.1M475.35 636.65L954.9 157.1M479.85 636.65L959.4 157.1M484.35 636.65L963.9 157.1M488.85 636.65L968.4 157.1M493.35 636.65L972.9 157.1M497.85 636.65L977.4 157.1M502.35 636.65L981.9 157.1M506.85 636.65L986.4 157.1M511.35 636.65L990.9 157.1M515.85 636.65L995.4 157.1M520.35 636.65L999.9 157.1M524.85 636.65L1004.4 157.1M529.35 636.65L1008.9 157.1M533.85 636.65L1013.4 157.1M538.35 636.65L1017.9 157.1M542.85 636.65L1022.4 157.1M547.35 636.65L1026.9 157.1M551.85 636.65L1031.4 157.1M556.35 636.65L1035.9 157.1M560.85 636.65L1040.4 157.1M565.35 636.65L1044.9 157.1M569.85 636.65L1049.4 157.1M574.35 636.65L1053.9 157.1M578.85 636.65L1058.4 157.1M583.35 636.65L1062.9 157.1M587.85 636.65L1067.4 157.1M592.35 636.65L1071.9 157.1M596.85 636.65L1076.4 157.1M601.35 636.65L1080.9 157.1M605.85 636.65L1085.4 157.1M610.35 636.65L1089.9 157.1M614.85 636.65L1094.4 157.1M619.35 636.65L1098.9 157.1M623.85 636.65L1103.4 157.1M628.35 636.65L1107.9 157.1M632.85 636.65L1112.4 157.1M637.35 636.65L1116.9 157.1M641.85 636.65L1121.4 157.1M646.35 636.65L1125.9 157.1M650.85 636.65L1130.4 157.1M655.35 636.65L1134.9 157.1M659.85 636.65L1139.4 157.1M664.35 636.65L1143.9 157.1M668.85 636.65L1148.4 157.1M673.35 636.65L1152.9 157.1M677.85 636.65L1157.4 157.1M682.35 636.65L1161.9 157.1M686.85 636.65L1166.4 157.1M691.35 636.65L1170.9 157.1M695.85 636.65L1175.4 157.1M700.35 636.65L1179.9 157.1M704.85 636.65L1184.4 157.1M709.35 636.65L1188.9 157.1M713.85 636.65L1193.4 157.1M718.35 636.65L1197.9 157.1M722.85 636.65L1202.4 157.1M727.35 636.65L1206.9 157.1M731.85 636.65L1211.4 157.1M736.35 636.65L1215.9 157.1M740.85 636.65L1220.4 157.1M745.35 636.65L1224.9 157.1M749.85 636.65L1229.4 157.1M754.35 636.65L1233.9 157.1M758.85 636.65L1238.4 157.1M763.35 636.65L1242.9 157.1M767.85 636.65L1247.4 157.1M772.35 636.65L1251.9 157.1M776.85 636.65L1256.4 157.1M781.35 636.65L1260.9 157.1M785.85 636.65L1265.4 157.1" stroke="#333" stroke-opacity="0.5" stroke-width="1.1"/>
<rect x="744.81" y="159.85" width="37" height="474.05" fill="none" stroke="#000" stroke-width="1.5"/>
<clipPath id="c9"><rect x="820.58" y="604.9" width="38.5" height="29.75"/></clipPath>
<rect x="820.58" y="604.9" width="38.5" height="29.75" fill="#fff"/>
<path clip-path="url(#c9)" d="M780.85 636.65L814.6 602.9M785.35 636.65L819.1 602.9M789.85 636.65L823.6 602.9M794.35 636.65L828.1 602.9M798.85 636.65L832.6 602.9M803.35 636.65L837.1 602.9M807.85 636.65L841.6 602.9M812.35 636.65L846.1 602.9M816.85 636.65L850.6 602.9M821.35 636.65L855.1 602.9M825.85 636.65L859.6 602.9M830.35 636.65L864.1 602.9M834.85 636.65L868.6 602.9M839.35 636.65L873.1 602.9M843.85 636.65L877.6 602.9M848.35 636.65L882.1 602.9M852.85 636.65L886.6 602.9M857.35 636.65L891.1 602.9M861.85 636.65L895.6 602.9" stroke="#333" stroke-opacity="0.5" stroke-width="1.1"/>
<path clip-path="url(#c9)" d="M781.35 636.65L815.1 602.9M785.85 636.65L819.6 602.9M790.35 636.65L824.1 602.9M794.85 636.65L828.6 602.9M799.35 636.65L833.1 602.9M803.85 636.65L837.6 602.9M808.35 636.65L842.1 602.9M812.85 636.65L846.6 602.9M817.35 636.65L851.1 602.9M821.85 636.65L855.6 602.9M826.35 636.65L860.1 602.9M830.85 636.65L864.6 602.9M835.35 636.65L869.1 602.9M839.85 636.65L873.6 602.9M844.35 636.65L878.1 602.9M848.85 636.65L882.6 602.9M853.35 636.65L887.1 602.9M857.85 636.65L891.6 602.9M862.35 636.65L896.1 602.9" stroke="#333" stroke-opacity="0.5" stroke-width="1.1"/>
<rect x="821.33" y="605.65" width="37" height="28.25" fill="none" stroke="#000" stroke-width="1.5"/>
<line x1="150.9" y1="223" x2="150.9" y2="239.8" stroke="#666" stroke-width="1.4"/>
<line x1="147.3" y1="223" x2="154.5" y2="223" stroke="#666" stroke-width="1.4"/>
<line x1="150.9" y1="240.5" x2="150.9" y2="271.75" stroke="#1a1a1a" stroke-width="1"/>
<line x1="147.7" y1="271.75" x2="154.1" y2="271.75" stroke="#1a1a1a" stroke-width="1.1"/>
<line x1="227.7" y1="212.75" x2="227.7" y2="231.8" stroke="#666" stroke-width="1.4"/>
<line x1="224.1" y1="212.75" x2="231.3" y2="212.75" stroke="#666" stroke-width="1.4"/>
<line x1="227.7" y1="232.5" x2="227.7" y2="275.75" stroke="#1a1a1a" stroke-width="1"/>
<line x1="224.5" y1="275.75" x2="230.9" y2="275.75" stroke="#1a1a1a" stroke-width="1.1"/>
<line x1="304.25" y1="216.25" x2="304.25" y2="236.3" stroke="#666" stroke-width="1.4"/>
<line x1="300.65" y1="216.25" x2="307.85" y2="216.25" stroke="#666" stroke-width="1.4"/>
<line x1="304.25" y1="237" x2="304.25" y2="295.25" stroke="#1a1a1a" stroke-width="1"/>
<line x1="301.05" y1="295.25" x2="307.45" y2="295.25" stroke="#1a1a1a" stroke-width="1.1"/>
<line x1="381.3" y1="152" x2="381.3" y2="172" stroke="#666" stroke-width="1.4"/>
<line x1="377.7" y1="152" x2="384.9" y2="152" stroke="#666" stroke-width="1.4"/>
<line x1="381.3" y1="172.7" x2="381.3" y2="230.7" stroke="#1a1a1a" stroke-width="1"/>
<line x1="378.1" y1="230.7" x2="384.5" y2="230.7" stroke="#1a1a1a" stroke-width="1.1"/>
<line x1="457" y1="113.6" x2="457" y2="134.1" stroke="#666" stroke-width="1.4"/>
<line x1="453.4" y1="113.6" x2="460.6" y2="113.6" stroke="#666" stroke-width="1.4"/>
<line x1="457" y1="134.8" x2="457" y2="195.4" stroke="#1a1a1a" stroke-width="1"/>
<line x1="453.8" y1="195.4" x2="460.2" y2="195.4" stroke="#1a1a1a" stroke-width="1.1"/>
<line x1="533.8" y1="75" x2="533.8" y2="134.6" stroke="#666" stroke-width="1.4"/>
<line x1="530.2" y1="75" x2="537.4" y2="75" stroke="#666" stroke-width="1.4"/>
<line x1="611" y1="219.7" x2="611" y2="241.2" stroke="#666" stroke-width="1.4"/>
<line x1="607.4" y1="219.7" x2="614.6" y2="219.7" stroke="#666" stroke-width="1.4"/>
<line x1="611" y1="241.9" x2="611" y2="317.5" stroke="#1a1a1a" stroke-width="1"/>
<line x1="607.8" y1="317.5" x2="614.2" y2="317.5" stroke="#1a1a1a" stroke-width="1.1"/>
<line x1="686.3" y1="388.9" x2="686.3" y2="416.8" stroke="#666" stroke-width="1.4"/>
<line x1="682.7" y1="388.9" x2="689.9" y2="388.9" stroke="#666" stroke-width="1.4"/>
<line x1="763.1" y1="141.9" x2="763.1" y2="159.9" stroke="#666" stroke-width="1.4"/>
<line x1="759.5" y1="141.9" x2="766.7" y2="141.9" stroke="#666" stroke-width="1.4"/>
<line x1="763.1" y1="160.6" x2="763.1" y2="200.4" stroke="#1a1a1a" stroke-width="1"/>
<line x1="759.9" y1="200.4" x2="766.3" y2="200.4" stroke="#1a1a1a" stroke-width="1.1"/>
<line x1="840.1" y1="591.25" x2="840.1" y2="605.7" stroke="#666" stroke-width="1.4"/>
<line x1="836.5" y1="591.25" x2="843.7" y2="591.25" stroke="#666" stroke-width="1.4"/>
<line x1="840.1" y1="606.4" x2="840.1" y2="630" stroke="#1a1a1a" stroke-width="1"/>
<line x1="836.9" y1="630" x2="843.3" y2="630" stroke="#1a1a1a" stroke-width="1.1"/>
<line x1="96.6" y1="23" x2="96.6" y2="634.5" stroke="#111" stroke-width="1.5"/>
<line x1="878.4" y1="23" x2="878.4" y2="634.5" stroke="#111" stroke-width="1.4"/>
<line x1="89.6" y1="633.8" x2="103.6" y2="633.8" stroke="#111" stroke-width="1.5"/>
<line x1="96.6" y1="603.28" x2="101.4" y2="603.28" stroke="#111" stroke-width="1.4"/>
<line x1="96.6" y1="572.76" x2="101.4" y2="572.76" stroke="#111" stroke-width="1.4"/>
<line x1="96.6" y1="542.24" x2="101.4" y2="542.24" stroke="#111" stroke-width="1.4"/>
<line x1="96.6" y1="511.72" x2="101.4" y2="511.72" stroke="#111" stroke-width="1.4"/>
<line x1="89.6" y1="481.2" x2="103.6" y2="481.2" stroke="#111" stroke-width="1.5"/>
<line x1="96.6" y1="450.72" x2="101.4" y2="450.72" stroke="#111" stroke-width="1.4"/>
<line x1="96.6" y1="420.24" x2="101.4" y2="420.24" stroke="#111" stroke-width="1.4"/>
<line x1="96.6" y1="389.76" x2="101.4" y2="389.76" stroke="#111" stroke-width="1.4"/>
<line x1="96.6" y1="359.28" x2="101.4" y2="359.28" stroke="#111" stroke-width="1.4"/>
<line x1="89.6" y1="328.8" x2="103.6" y2="328.8" stroke="#111" stroke-width="1.5"/>
<line x1="96.6" y1="298.28" x2="101.4" y2="298.28" stroke="#111" stroke-width="1.4"/>
<line x1="96.6" y1="267.76" x2="101.4" y2="267.76" stroke="#111" stroke-width="1.4"/>
<line x1="96.6" y1="237.24" x2="101.4" y2="237.24" stroke="#111" stroke-width="1.4"/>
<line x1="96.6" y1="206.72" x2="101.4" y2="206.72" stroke="#111" stroke-width="1.4"/>
<line x1="89.6" y1="176.2" x2="103.6" y2="176.2" stroke="#111" stroke-width="1.5"/>
<line x1="96.6" y1="145.6" x2="101.4" y2="145.6" stroke="#111" stroke-width="1.4"/>
<line x1="96.6" y1="115" x2="101.4" y2="115" stroke="#111" stroke-width="1.4"/>
<line x1="96.6" y1="84.4" x2="101.4" y2="84.4" stroke="#111" stroke-width="1.4"/>
<line x1="96.6" y1="53.8" x2="101.4" y2="53.8" stroke="#111" stroke-width="1.4"/>
<line x1="89.6" y1="23.2" x2="103.6" y2="23.2" stroke="#111" stroke-width="1.5"/>
<line x1="871.2" y1="633.8" x2="884.6" y2="633.8" stroke="#111" stroke-width="1.4"/>
<line x1="871.2" y1="481.2" x2="884.6" y2="481.2" stroke="#111" stroke-width="1.4"/>
<line x1="871.2" y1="328.8" x2="884.6" y2="328.8" stroke="#111" stroke-width="1.4"/>
<line x1="871.2" y1="176.2" x2="884.6" y2="176.2" stroke="#111" stroke-width="1.4"/>
<line x1="871.2" y1="23.2" x2="884.6" y2="23.2" stroke="#111" stroke-width="1.4"/>
<g font-family="Liberation Sans, sans-serif" font-weight="bold" fill="#000" stroke="#fff" stroke-width="0.1">
<text transform="translate(79.2,641.4) scale(0.96,1)" font-size="22.95" text-anchor="end">0.0</text>
<g transform="translate(48.58,488.6) scale(0.96,1)"><g transform="translate(2.08,0)"><path d="M780 0L500 0L500 1015Q347 877 139 812L139 1056Q249 1091 377 1186Q505 1281 552 1409L780 1409Z" transform="scale(0.011206,-0.011206)" stroke-width="8.92"/></g><text x="12.76" y="0" font-size="22.95">.0</text></g>
<text transform="translate(79.2,335.2) scale(0.96,1)" font-size="22.95" text-anchor="end">2.0</text>
<text transform="translate(79.2,182.7) scale(0.96,1)" font-size="22.95" text-anchor="end">3.0</text>
<text transform="translate(79.2,30.4) scale(0.96,1)" font-size="22.95" text-anchor="end">4.0</text>
<g transform="translate(896.6,641.4) scale(0.95,1)" stroke="none"><path d="M780 0L500 0L500 1015Q347 877 139 812L139 1056Q249 1091 377 1186Q505 1281 552 1409L780 1409Z" transform="scale(0.010742,-0.010742)"/><text x="12.23" y="0" font-size="22">E+00</text></g>
<g transform="translate(896.6,488.6) scale(0.95,1)" stroke="none"><path d="M780 0L500 0L500 1015Q347 877 139 812L139 1056Q249 1091 377 1186Q505 1281 552 1409L780 1409Z" transform="scale(0.010742,-0.010742)"/><text x="12.23" y="0" font-size="22">E+02</text></g>
<g transform="translate(896.6,335.2) scale(0.95,1)" stroke="none"><path d="M780 0L500 0L500 1015Q347 877 139 812L139 1056Q249 1091 377 1186Q505 1281 552 1409L780 1409Z" transform="scale(0.010742,-0.010742)"/><text x="12.23" y="0" font-size="22">E+04</text></g>
<g transform="translate(896.6,182.7) scale(0.95,1)" stroke="none"><path d="M780 0L500 0L500 1015Q347 877 139 812L139 1056Q249 1091 377 1186Q505 1281 552 1409L780 1409Z" transform="scale(0.010742,-0.010742)"/><text x="12.23" y="0" font-size="22">E+06</text></g>
<g transform="translate(896.6,30.4) scale(0.95,1)" stroke="none"><path d="M780 0L500 0L500 1015Q347 877 139 812L139 1056Q249 1091 377 1186Q505 1281 552 1409L780 1409Z" transform="scale(0.010742,-0.010742)"/><text x="12.23" y="0" font-size="22">E+08</text></g>
</g>
<g font-family="Liberation Sans, sans-serif" font-size="22" fill="#000">
<text transform="translate(113.1,666.4) scale(0.95,1)">AMS</text>
<text transform="translate(190.17,666.4) scale(0.95,1)">CPT</text>
<text transform="translate(267.29,666.4) scale(0.95,1)">CHC</text>
<text transform="translate(342.91,666.4) scale(0.95,1)">GRE</text>
<text transform="translate(419.13,666.4) scale(0.95,1)">NAM</text>
<text transform="translate(496.9,666.4) scale(0.95,1)">PDD</text>
<text transform="translate(572.07,666.4) scale(0.95,1)">PDM</text>
<text transform="translate(649.34,666.4) scale(0.95,1)">STN</text>
<text transform="translate(726.01,666.4) scale(0.95,1)">STP</text>
<text transform="translate(801.38,666.4) scale(0.95,1)">DMC</text>
</g>
<rect x="574" y="59.8" width="10.8" height="10.8" fill="#8e8e8e"/>
<clipPath id="c99"><rect x="574.4" y="90.6" width="9.6" height="9.8"/></clipPath>
<rect x="574.4" y="90.6" width="9.6" height="9.8" fill="#fff"/>
<path clip-path="url(#c99)" d="M554.6 102.4L568.4 88.6M559.1 102.4L572.9 88.6M563.6 102.4L577.4 88.6M568.1 102.4L581.9 88.6M572.6 102.4L586.4 88.6M577.1 102.4L590.9 88.6M581.6 102.4L595.4 88.6M586.1 102.4L599.9 88.6M590.6 102.4L604.4 88.6" stroke="#333" stroke-opacity="0.5" stroke-width="1.1"/>
<path clip-path="url(#c99)" d="M555.1 102.4L568.9 88.6M559.6 102.4L573.4 88.6M564.1 102.4L577.9 88.6M568.6 102.4L582.4 88.6M573.1 102.4L586.9 88.6M577.6 102.4L591.4 88.6M582.1 102.4L595.9 88.6M586.6 102.4L600.4 88.6M591.1 102.4L604.9 88.6" stroke="#333" stroke-opacity="0.5" stroke-width="1.1"/>
<rect x="575" y="91.2" width="8.4" height="8.6" fill="none" stroke="#000" stroke-width="1.2"/>
<g font-family="Liberation Sans, sans-serif" font-weight="bold" font-size="19" fill="#000" stroke="#fff" stroke-width="0.1">
<text transform="translate(587.8,69.6) scale(0.87,1)" letter-spacing="1">Organic Carbon</text>
<g transform="translate(588,100.6) scale(0.87,1)"><path d="M780 0L500 0L500 1015Q347 877 139 812L139 1056Q249 1091 377 1186Q505 1281 552 1409L780 1409Z" transform="scale(0.009277,-0.009277)" stroke-width="10.78"/><text x="11.45" y="0" letter-spacing="0.89">6S rRNA</text></g>
</g>
<g font-family="Liberation Sans, sans-serif" font-weight="bold" fill="#000">
<text font-size="27" transform="translate(38.8,390.5) rotate(-90)">OC µg/m<tspan font-size="18.5" dy="-7.5">3</tspan></text>
<g transform="translate(988,405) rotate(-90)"><path d="M780 0L500 0L500 1015Q347 877 139 812L139 1056Q249 1091 377 1186Q505 1281 552 1409L780 1409Z" transform="scale(0.012451,-0.012451)"/><text x="14.18" y="0" font-size="25.5">6S rRNA/m<tspan font-size="18.5" dy="-7">3</tspan></text></g>
</g>
</svg>
</body></html>
